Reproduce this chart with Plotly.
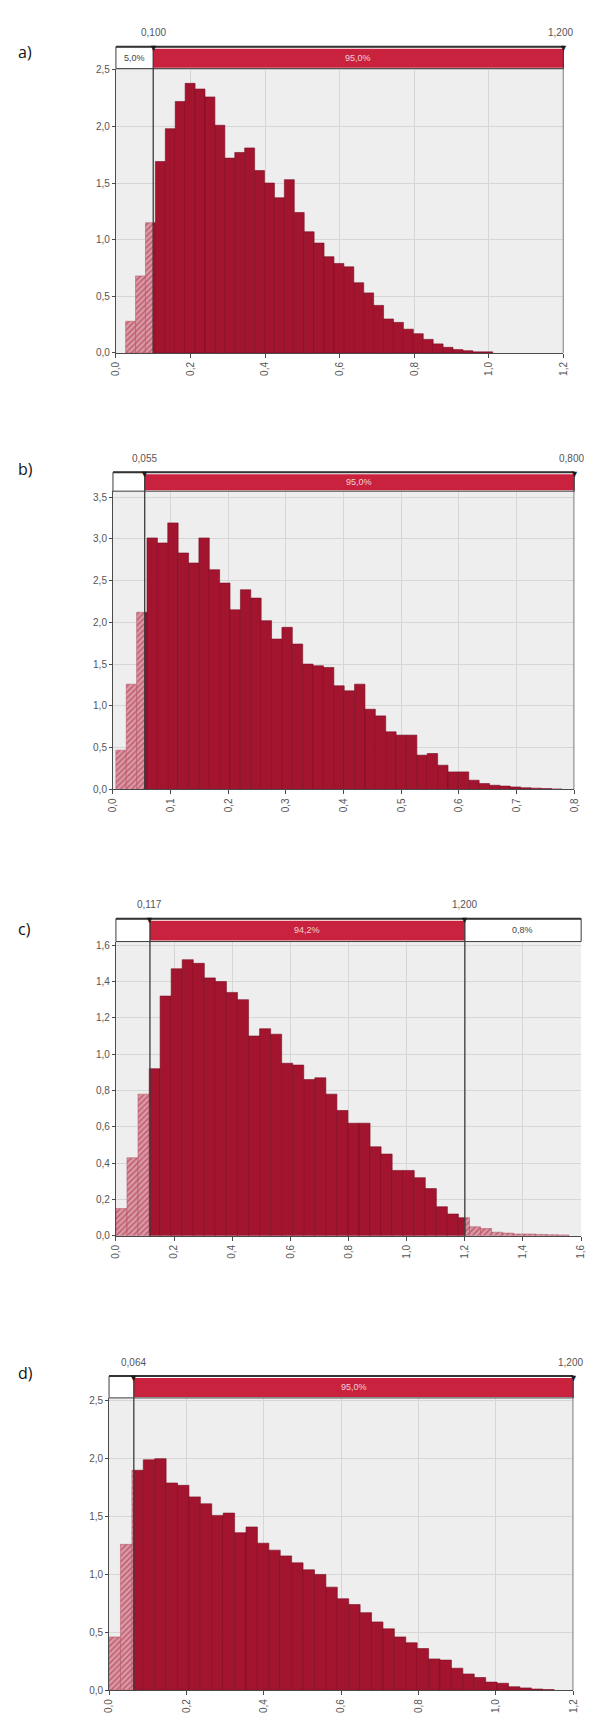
import plotly.graph_objects as go

# ---------------- data ----------------
a_bin_start = 0.026
a_bin_width = 0.0266
a_density = [0.28, 0.68, 1.15, 1.69, 1.98, 2.22, 2.38, 2.33, 2.26, 2.01, 1.72, 1.77, 1.81,
             1.61, 1.50, 1.37, 1.53, 1.24, 1.07, 0.97, 0.85, 0.79, 0.76, 0.62, 0.53, 0.42,
             0.30, 0.27, 0.21, 0.17, 0.12, 0.08, 0.05, 0.03, 0.02, 0.01, 0.01]

b_bin_start = 0.005
b_bin_width = 0.018
b_density = [0.47, 1.26, 2.12, 3.01, 2.95, 3.19, 2.83, 2.71, 3.01, 2.63, 2.47, 2.15, 2.39,
             2.29, 2.02, 1.80, 1.94, 1.74, 1.50, 1.48, 1.46, 1.24, 1.18, 1.26, 0.96, 0.88,
             0.69, 0.65, 0.65, 0.41, 0.43, 0.29, 0.21, 0.21, 0.11, 0.07, 0.05, 0.04, 0.03,
             0.02, 0.015, 0.01, 0.005]

c_bin_start = 0.0
c_bin_width = 0.038
c_density = [0.15, 0.43, 0.78, 0.92, 1.32, 1.47, 1.52, 1.50, 1.42, 1.40, 1.34, 1.30, 1.10,
             1.14, 1.11, 0.95, 0.94, 0.86, 0.87, 0.78, 0.69, 0.62, 0.62, 0.49, 0.45, 0.36,
             0.36, 0.32, 0.26, 0.16, 0.12, 0.10, 0.05, 0.04, 0.02, 0.015, 0.01, 0.01, 0.008,
             0.006, 0.005]

d_bin_start = 0.0
d_bin_width = 0.0295
d_density = [0.46, 1.26, 1.90, 1.99, 2.00, 1.79, 1.77, 1.67, 1.61, 1.51, 1.53, 1.36, 1.41,
             1.27, 1.21, 1.16, 1.10, 1.04, 1.00, 0.89, 0.79, 0.74, 0.67, 0.59, 0.53, 0.46,
             0.41, 0.36, 0.27, 0.26, 0.19, 0.14, 0.11, 0.07, 0.06, 0.03, 0.02, 0.01, 0.005]

panel_letters = ["a)", "b)", "c)", "d)"]
x_max = [1.2, 0.8, 1.6, 1.2]
x_dtick = [0.2, 0.1, 0.2, 0.2]
y_max = [2.51, 3.57, 1.62, 2.525]
y_dtick = [0.5, 0.5, 0.2, 0.5]
lower_limits = [0.100, 0.055, 0.117, 0.064]
upper_limits = [1.200, 0.800, 1.200, 1.200]
lower_labels = ["0,100", "0,055", "0,117", "0,064"]
upper_labels = ["1,200", "0,800", "1,200", "1,200"]
left_pct = ["5,0%", "", "", ""]
mid_pct = ["95,0%", "95,0%", "94,2%", "95,0%"]
right_pct = ["", "", "0,8%", ""]

starts = [a_bin_start, b_bin_start, c_bin_start, d_bin_start]
widths = [a_bin_width, b_bin_width, c_bin_width, d_bin_width]
densities = [a_density, b_density, c_density, d_density]

# ---------------- layout geometry (pixels) ----------------
W, H = 594, 1731
# left, right, plot top, plot bottom, header top
geom = [(112, 568, 65, 351, 43),
        (109, 579, 490, 790, 471),
        (112, 586, 943, 1239, 920),
        (105, 578, 1402, 1696, 1380)]
letter_y = [48, 468, 930, 1377]

BAR = "#a3152f"
BAR_LINE = "#7a0c21"
HEAD = "#c9223f"
AXC = "#4a4a4a"


def py(p):
    return 1 - p / H


def split(start, width, heights, lo, hi):
    ins, outs = ([], [], []), ([], [], [])
    for i, h in enumerate(heights):
        a = start + i * width
        b = a + width
        segs = []
        if a < lo:
            segs.append((a, min(b, lo), False))
        if b > lo and a < hi:
            segs.append((max(a, lo), min(b, hi), True))
        if b > hi:
            segs.append((max(a, hi), b, False))
        for s0, s1, inside in segs:
            if s1 - s0 <= 1e-9:
                continue
            tgt = ins if inside else outs
            tgt[0].append((s0 + s1) / 2)
            tgt[1].append(s1 - s0)
            tgt[2].append(h)
    return ins, outs


fig = go.Figure()
shapes = []
annotations = []
layout_axes = {}

for k in range(4):
    n = "" if k == 0 else str(k + 1)
    xa, ya = "x" + n, "y" + n
    left, right, top, bottom, htop = geom[k]
    lo, hi = lower_limits[k], upper_limits[k]
    ins, outs = split(starts[k], widths[k], densities[k], lo, hi)

    fig.add_trace(go.Bar(x=outs[0], y=outs[2], width=outs[1], xaxis=xa, yaxis=ya,
                         marker=dict(color="#cf7e8c", line=dict(color="#b04a5e", width=0.5),
                                     pattern=dict(shape="/", fgcolor="#a3152f", bgcolor="#d99aa6",
                                                  size=4, solidity=0.35)),
                         showlegend=False, hoverinfo="skip"))
    fig.add_trace(go.Bar(x=ins[0], y=ins[2], width=ins[1], xaxis=xa, yaxis=ya,
                         marker=dict(color=BAR, line=dict(color=BAR_LINE, width=0.6)),
                         showlegend=False, hoverinfo="skip"))

    layout_axes["xaxis" + n] = dict(
        domain=[left / W, right / W], anchor=ya, range=[0, x_max[k]], dtick=x_dtick[k],
        tick0=0, tickformat=".1f", tickangle=-90, ticks="outside", ticklen=4,
        tickcolor=AXC, showline=True, linecolor=AXC, linewidth=1,
        showgrid=True, gridcolor="#d6d6d6", gridwidth=1, zeroline=False,
        tickfont=dict(family="Liberation Sans", size=10, color="#555555"), fixedrange=True)
    layout_axes["yaxis" + n] = dict(
        domain=[py(bottom), py(top)], anchor=xa, range=[0, y_max[k]], dtick=y_dtick[k],
        tick0=0, tickformat=".1f", ticks="outside", ticklen=3, tickcolor=AXC,
        showline=True, linecolor=AXC, linewidth=1, showgrid=True, gridcolor="#d6d6d6",
        zeroline=False, tickfont=dict(family="Liberation Sans", size=10, color="#555555"),
        fixedrange=True)

    # header box (white frame over the full width)
    shapes.append(dict(type="rect", xref=xa + " domain", yref="paper", x0=0, x1=1,
                       y0=py(top), y1=py(htop), fillcolor="white",
                       line=dict(color="#3c3c3c", width=1), layer="above"))
    # red band between the delimiters
    shapes.append(dict(type="rect", xref=xa, yref="paper", x0=lo, x1=hi,
                       y0=py(top - 1), y1=py(htop + 2), fillcolor=HEAD,
                       line=dict(width=0), layer="above"))
    shapes.append(dict(type="line", xref=xa + " domain", yref="paper", x0=0, x1=1,
                       y0=py(htop), y1=py(htop), line=dict(color="#333333", width=2),
                       layer="above"))
    # delimiter lines
    for v in (lo, hi):
        shapes.append(dict(type="line", xref=xa, yref="paper", x0=v, x1=v,
                           y0=py(bottom), y1=py(htop), line=dict(color="#3c3c3c", width=1.3),
                           layer="above"))
    # delimiter triangles + labels
    for v, lab in ((lo, lower_labels[k]), (hi, upper_labels[k])):
        annotations.append(dict(xref=xa, yref="paper", x=v, y=py(htop + 1), text="▼",
                                showarrow=False, yanchor="middle",
                                font=dict(size=9, color="#1a1a1a")))
        at_edge = abs(v - x_max[k]) < 1e-9
        annotations.append(dict(xref=xa, yref="paper", x=v, y=py(htop - 14), text=lab,
                                showarrow=False, yanchor="middle",
                                xanchor="right" if at_edge else "center",
                                xshift=12 if at_edge else 0,
                                font=dict(family="Liberation Sans", size=10, color="#555555")))
    hmid = py((top + htop) / 2)
    if left_pct[k]:
        annotations.append(dict(xref=xa, yref="paper", x=lo / 2, y=hmid, text=left_pct[k],
                                showarrow=False, yanchor="middle",
                                font=dict(family="Liberation Sans", size=9, color="#444444")))
    annotations.append(dict(xref=xa, yref="paper", x=(lo + hi) / 2, y=hmid, text=mid_pct[k],
                            showarrow=False, yanchor="middle",
                            font=dict(family="Liberation Sans", size=9, color="#f3d0d6")))
    if right_pct[k]:
        annotations.append(dict(xref=xa, yref="paper", x=(hi + x_max[k]) / 2, y=hmid,
                                text=right_pct[k], showarrow=False, yanchor="middle",
                                font=dict(family="Liberation Sans", size=9, color="#444444")))
    annotations.append(dict(xref="paper", yref="paper", x=10 / W, y=py(letter_y[k]),
                            text=panel_letters[k], showarrow=False, xanchor="left",
                            yanchor="middle",
                            font=dict(family="Open Sans", size=16, color="#111111")))

fig.update_layout(width=W, height=H, margin=dict(l=0, r=0, t=0, b=0),
                  paper_bgcolor="white", plot_bgcolor="#eeeeee", separators=",.",
                  barmode="overlay", shapes=shapes, annotations=annotations,
                  **layout_axes)

fig.write_html("out.html", config={"displayModeBar": False, "staticPlot": True},
               post_script="document.body.style.margin='0';document.body.style.padding='0';"
                           "document.documentElement.style.overflow='hidden';")
